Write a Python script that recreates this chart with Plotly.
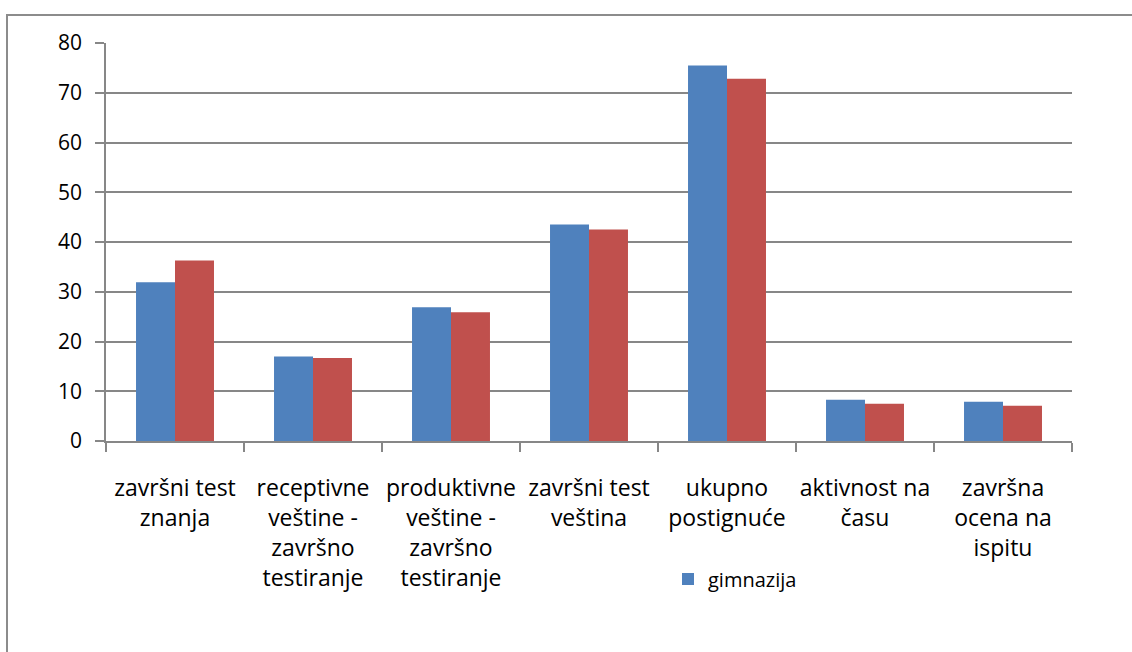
import plotly.graph_objects as go

categories = [
    "završni test<br>znanja",
    "receptivne<br>veštine -<br>završno<br>testiranje",
    "produktivne<br>veštine -<br>završno<br>testiranje",
    "završni test<br>veština",
    "ukupno<br>postignuće",
    "aktivnost na<br>času",
    "završna<br>ocena na<br>ispitu",
]
gimnazija = [31.9, 17.0, 26.9, 43.5, 75.5, 8.3, 7.9]
druga_grupa = [36.3, 16.7, 25.9, 42.5, 72.8, 7.5, 7.1]
y_ticks = [0, 10, 20, 30, 40, 50, 60, 70, 80]

FONT = "Open Sans"
GRID = "#878787"

fig = go.Figure()
fig.add_trace(go.Bar(x=categories, y=gimnazija, name="gimnazija",
                     marker=dict(color="#4F81BD", line=dict(width=0))))
fig.add_trace(go.Bar(x=categories, y=druga_grupa, name="druga grupa", showlegend=False,
                     marker=dict(color="#C0504D", line=dict(width=0))))

L, R, T, B = 106, 60, 43, 211
W, H = 1132, 652
pw, ph = W - L - R, H - T - B

def px_x(x):
    return (x - L) / pw

def px_y(y):
    return (H - B - y) / ph

fig.update_layout(
    width=W, height=H,
    margin=dict(l=L, r=R, t=T, b=B),
    paper_bgcolor="white", plot_bgcolor="white",
    barmode="group", bargap=0.435, bargroupgap=0,
    font=dict(family=FONT, size=20, color="#000000"),
    showlegend=True,
    legend=dict(x=px_x(668), y=px_y(579), xanchor="left", yanchor="middle",
                font=dict(family=FONT, size=20, color="#000000"),
                bgcolor="rgba(0,0,0,0)", itemwidth=30),
    shapes=[dict(type="rect", xref="paper", yref="paper",
                 x0=px_x(7), y0=px_y(15), x1=px_x(1160), y1=px_y(680),
                 line=dict(color="#8c8c8c", width=2), fillcolor="rgba(0,0,0,0)",
                 layer="below")],
)
fig.update_xaxes(
    type="category", tickson="boundaries", ticks="outside", ticklen=9,
    tickcolor=GRID, tickwidth=1.5, showline=True, linecolor=GRID, linewidth=1.5,
    showgrid=False, ticklabelstandoff=26, tickangle=0,
    tickfont=dict(family=FONT, size=23, color="#000000"),
)
fig.update_yaxes(
    range=[0, 80], tickvals=y_ticks, ticktext=[str(v) for v in y_ticks],
    ticks="outside", ticklen=9, tickcolor=GRID, tickwidth=1.5,
    showline=True, linecolor=GRID, linewidth=1.5,
    showgrid=True, gridcolor=GRID, gridwidth=1.5, zeroline=False,
    ticklabelstandoff=9,
    tickfont=dict(family=FONT, size=21, color="#000000"),
)

fig.write_html("out.html", config={"displayModeBar": False},
               post_script="document.body.style.margin='0px';")
